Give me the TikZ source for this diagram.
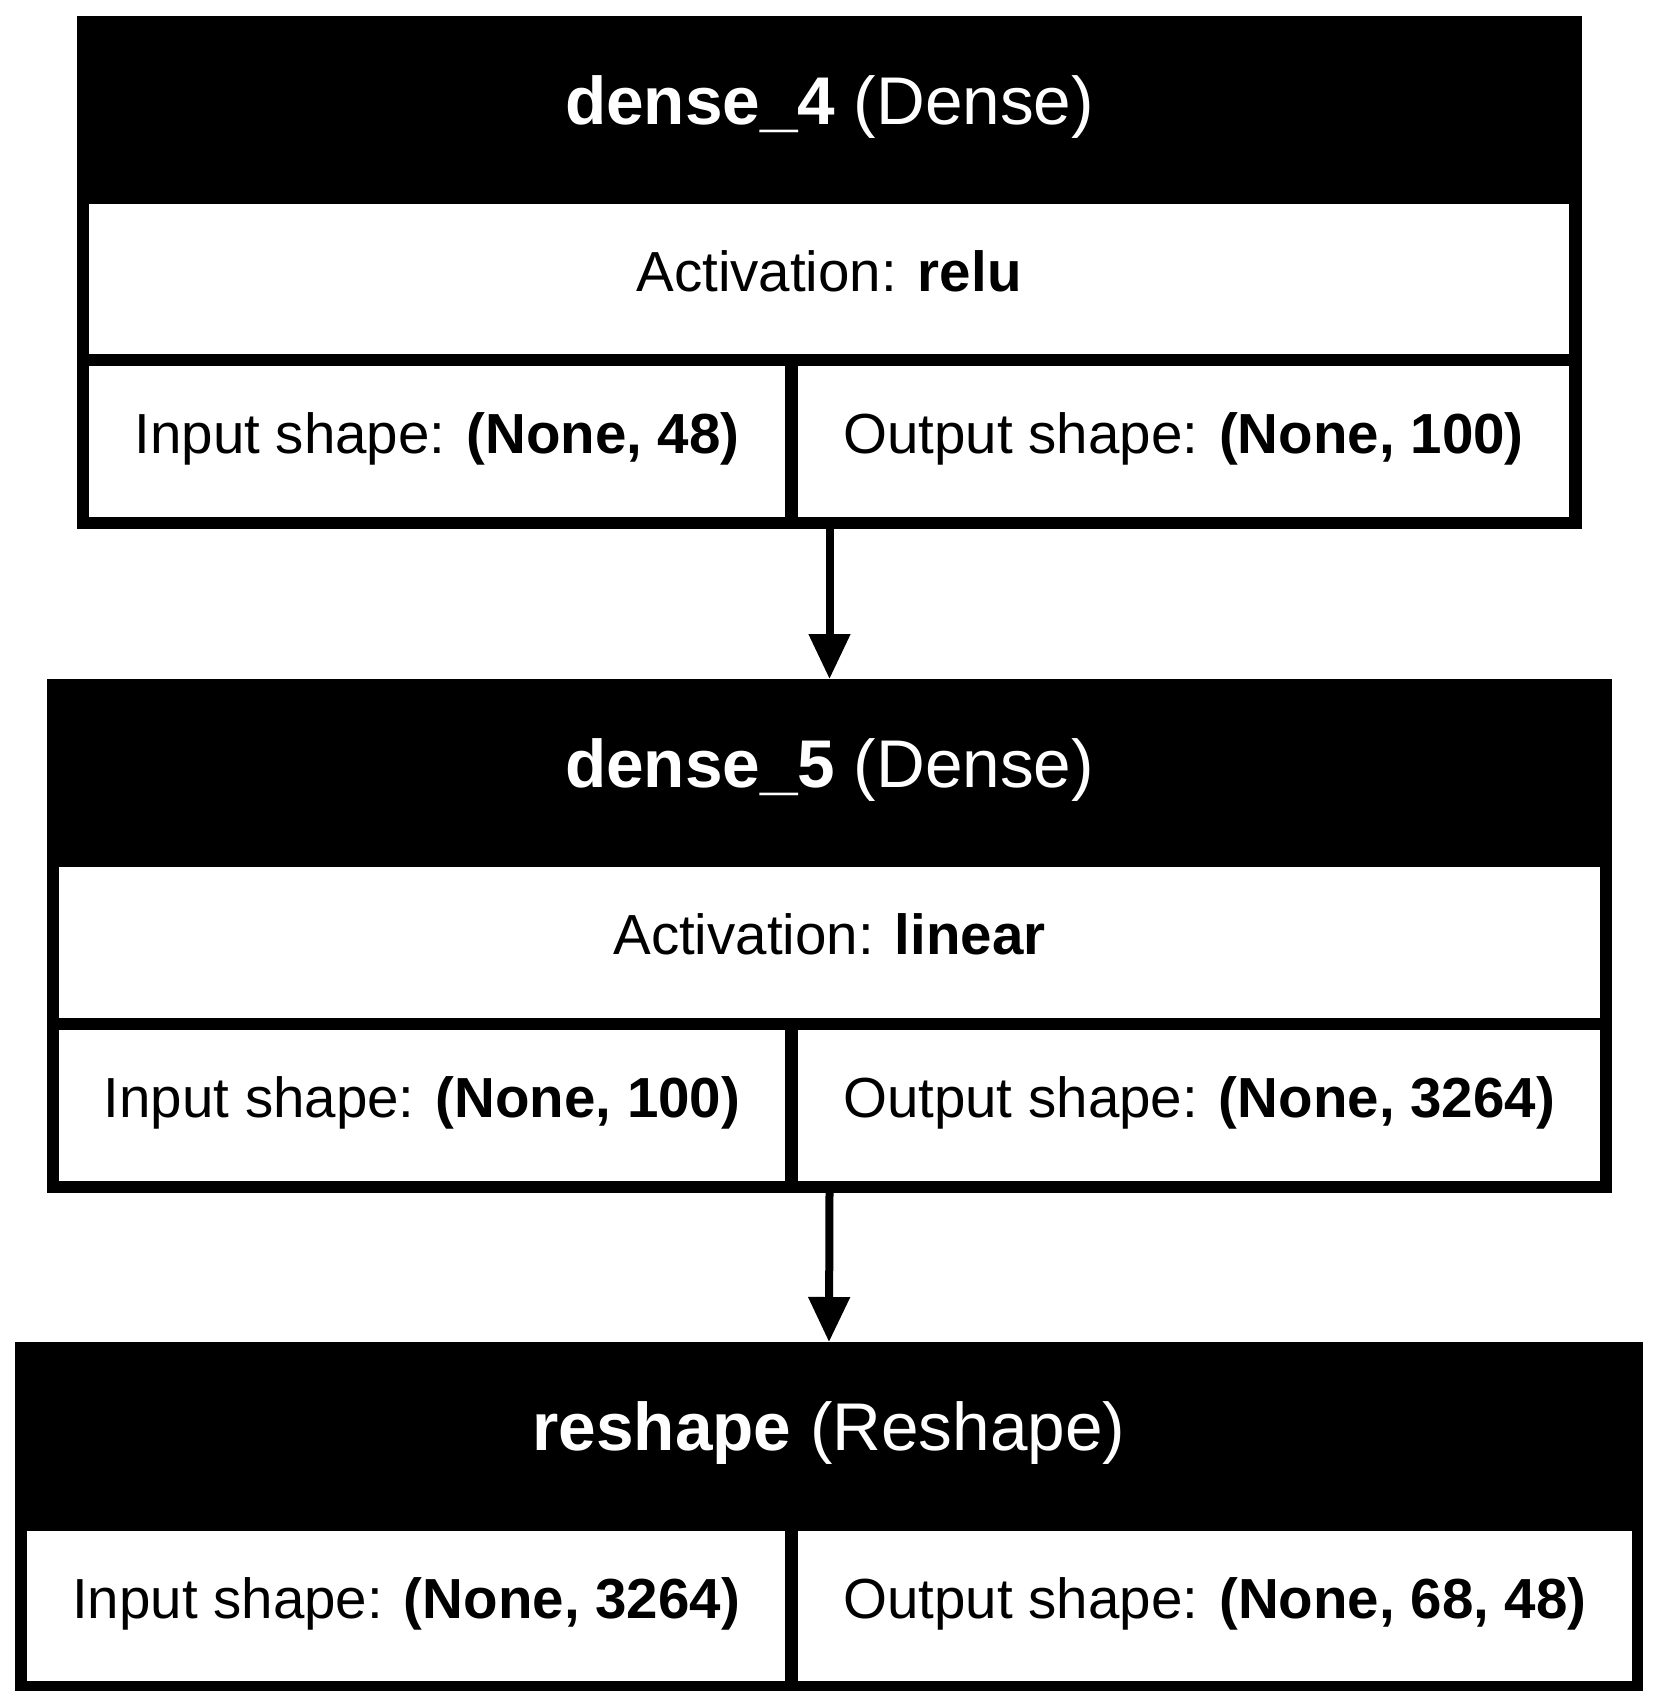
\documentclass[tikz,border=0pt]{standalone}
\usepackage{fontspec}
\setmainfont{Liberation Sans}
\usetikzlibrary{arrows.meta}
\begin{document}
\begin{tikzpicture}[x=1bp,y=-1bp,
  outerbox/.style={fill=black, inner sep=0pt, outer sep=0pt},
  cellbox/.style={fill=white, inner sep=0pt, outer sep=0pt, text height=40bp, text depth=16bp, font=\fontsize{56.5bp}{68bp}\selectfont},
  headbox/.style={inner sep=0pt, outer sep=0pt, text=white, text height=46bp, text depth=18bp, font=\fontsize{67.5bp}{80bp}\selectfont},
  conn/.style={line width=8bp, -{Triangle[length=45bp,width=40bp]}}]
\fill[white] (0,0) rectangle (1658,1708);
\useasboundingbox (0,0) rectangle (1658,1708);
% ---- dense_4
\node[outerbox, minimum width=1505bp, minimum height=513bp] (b1) at (829.5,272.5) {};
\node[headbox, minimum width=1505bp, minimum height=188bp] (h1) at (829.5,110) {\textbf{dense\_4} (Dense)};
\node[cellbox, minimum width=1480bp, minimum height=150bp] (a1) at (829,279) {Activation: \textbf{relu}};
\node[cellbox, minimum width=696bp, minimum height=151bp] (i1) at (437,441.5) {Input shape: \textbf{(None, 48)}};
\node[cellbox, minimum width=771bp, minimum height=151bp] (o1) at (1183.5,441.5) {Output shape: \textbf{(None, 100)}};
% ---- dense_5
\node[outerbox, minimum width=1565bp, minimum height=514bp] (b2) at (829.5,936) {};
\node[headbox, minimum width=1565bp, minimum height=188bp] (h2) at (829.5,773) {\textbf{dense\_5} (Dense)};
\node[cellbox, minimum width=1541bp, minimum height=151bp] (a2) at (829.5,942.5) {Activation: \textbf{linear}};
\node[cellbox, minimum width=726bp, minimum height=151bp] (i2) at (422,1105.5) {Input shape: \textbf{(None, 100)}};
\node[cellbox, minimum width=802bp, minimum height=151bp] (o2) at (1199,1105.5) {Output shape: \textbf{(None, 3264)}};
% ---- reshape
\node[outerbox, minimum width=1628bp, minimum height=349bp] (b3) at (829,1516.5) {};
\node[headbox, minimum width=1628bp, minimum height=189bp] (h3) at (829,1436.5) {\textbf{reshape} (Reshape)};
\node[cellbox, minimum width=758bp, minimum height=150bp] (i3) at (406,1606) {Input shape: \textbf{(None, 3264)}};
\node[cellbox, minimum width=834bp, minimum height=150bp] (o3) at (1215,1606) {Output shape: \textbf{(None, 68, 48)}};
% ---- connectors
\draw[conn] (b1.south) -- (b2.north);
\draw[conn] (b2.south) -- (b3.north);
\end{tikzpicture}
\end{document}
